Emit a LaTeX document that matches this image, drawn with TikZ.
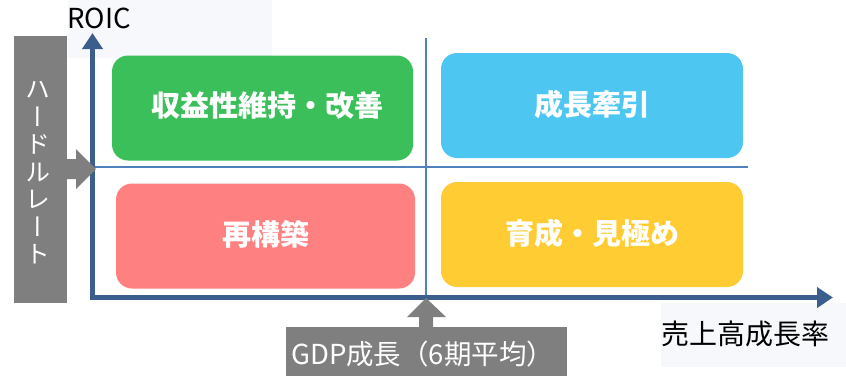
\documentclass[tikz,border=0pt]{standalone}
\usepackage{fontspec}
\setmainfont{Noto Sans CJK JP}
\newfontfamily\jpv[RawFeature=+vert]{Noto Sans CJK JP}
\usetikzlibrary{arrows.meta}
\definecolor{axisc}{RGB}{59,94,140}
\definecolor{quadc}{RGB}{79,129,189}
\definecolor{grayc}{RGB}{127,127,127}
\definecolor{greenc}{RGB}{59,191,90}
\definecolor{bluec}{RGB}{77,198,242}
\definecolor{redc}{RGB}{255,128,128}
\definecolor{yellowc}{RGB}{255,204,51}
\definecolor{lightbg}{RGB}{247,248,251}
\tikzset{
  quad/.style={rounded corners=16pt, minimum width=301pt, minimum height=105pt, inner sep=0pt,
     text=white, font=\bfseries\fontsize{29}{32}\selectfont},
  quadtext/.style={text=white, inner sep=0pt, font=\bfseries\fontsize{29}{32}\selectfont},
  axisline/.style={draw=axisc, line width=5pt, line join=miter},
  quadline/.style={draw=quadc, line width=1.6pt},
  graybox/.style={fill=grayc, draw=none, inner sep=0pt},
  lightbox/.style={fill=lightbg, draw=none, inner sep=0pt},
  tipA/.tip={Triangle[width=20pt,length=16pt]}
}
\begin{document}
\begin{tikzpicture}[x=1pt,y=-1pt]
\useasboundingbox (0,0) rectangle (846,376);
% light label backgrounds
\node[lightbox, minimum width=204pt, minimum height=58pt] (roicbg) at (170,29) {};
\node[lightbox, minimum width=185pt, minimum height=64pt] (xbg) at (753.5,335) {};
\node[anchor=west, inner sep=0pt, font=\fontsize{27.5}{30}\selectfont] (roic) at (67,18.5) {ROIC};
\node[anchor=west, inner sep=0pt, font=\fontsize{28}{32}\selectfont] (xlab) at (661,334) {売上高成長率};
% quadrants
\node[quad, fill=greenc] (q1) at (262.5,108) {};
\node[quadtext] (t1) at (267.5,105.5) {収益性維持・改善};
\node[quad, fill=bluec, minimum width=302pt] (q2) at (592,105.5) {};
\node[quadtext] (t2) at (592,104) {成長牽引};
\node[quad, fill=redc, minimum width=299pt] (q3) at (265.5,236) {};
\node[quadtext] (t3) at (266,234.5) {再構築};
\node[quad, fill=yellowc, minimum width=302pt] (q4) at (592,234.5) {};
\node[quadtext] (t4) at (592,233.5) {育成・見極め};
% quadrant lines
\coordinate (vtop) at (426,38);
\coordinate (vbot) at (426,296);
\coordinate (hleft) at (95,167);
\coordinate (hright) at (748,167);
\draw[quadline] (vtop) -- (vbot);
\draw[quadline] (hleft) -- (hright);
% axes
\coordinate (origin) at (92.5,297.5);
\coordinate (ytip) at (92.5,33);
\coordinate (xtip) at (833,297.5);
\draw[axisline, tipA-tipA] (ytip) -- (origin) -- (xtip);
% hurdle rate box
\node[graybox, minimum width=53pt, minimum height=267pt] (hurdle) at (40.5,169.5) {};
\node[text=white, align=center, inner sep=0pt, font=\jpv\fontsize{25}{27.5}\selectfont] (hurdletext) at (38,173) {ハ\\ー\\ド\\ル\\レ\\ー\\ト};
\coordinate (harrow) at (96,169);
\fill[grayc] (hurdle.east |- 0,159) -- (76,159) -- (76,149) -- (harrow) -- (76,189) -- (76,179) -- (hurdle.east |- 0,179) -- cycle;
% GDP box
\node[graybox, minimum width=281pt, minimum height=49pt] (gdp) at (426.5,351.5) {};
\node[anchor=west, text=white, inner sep=0pt, font=\fontsize{27.5}{30}\selectfont] (gdptext) at (291,354) {GDP成長（6期平均）};
\coordinate (garrow) at (426,298);
\fill[grayc] (419,327.5) -- (419,317) -- (407,317) -- (garrow) -- (446,317) -- (433,317) -- (433,327.5) -- cycle;
\end{tikzpicture}
\end{document}
